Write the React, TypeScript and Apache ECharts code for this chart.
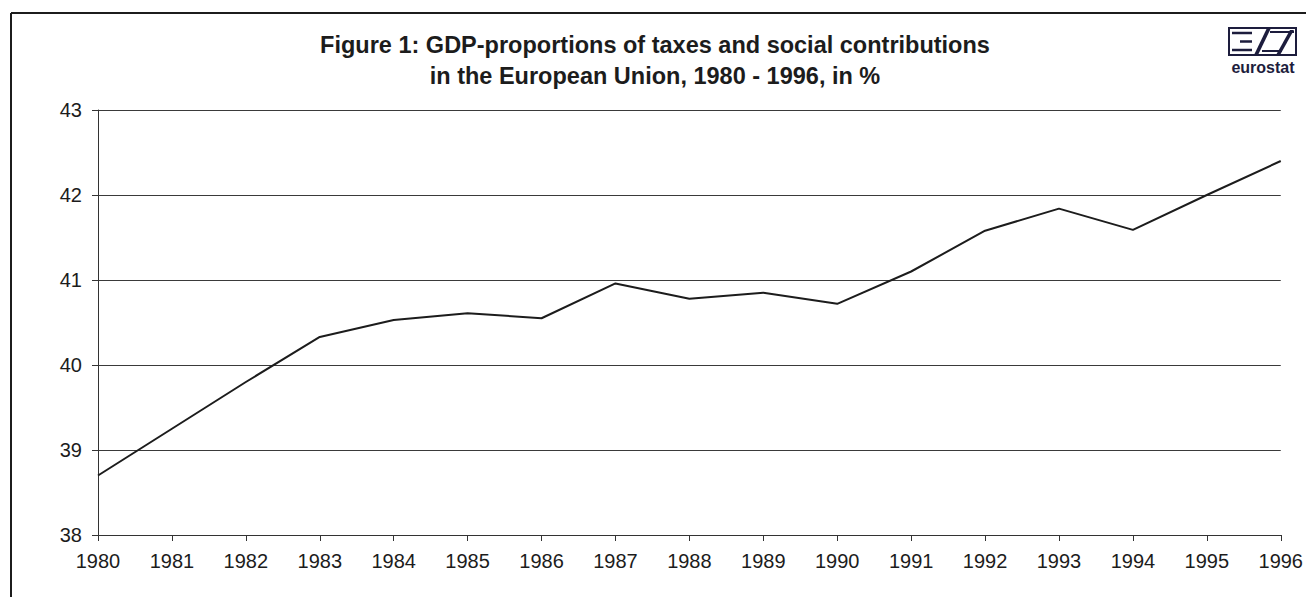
import React, { useEffect, useRef } from "react";
import * as echarts from "echarts";

const years = ["1980","1981","1982","1983","1984","1985","1986","1987","1988","1989","1990","1991","1992","1993","1994","1995","1996"];
const gdpShare = [38.7, 39.25, 39.8, 40.33, 40.53, 40.61, 40.55, 40.96, 40.78, 40.85, 40.72, 41.1, 41.58, 41.84, 41.59, 42.0, 42.4];
const titleLines = ["Figure 1: GDP-proportions of taxes and social contributions", "in the European Union, 1980 - 1996, in %"];
const yMin = 38;
const yMax = 43;

export default function App() {
  const ref = useRef<HTMLDivElement>(null);
  useEffect(() => {
    if (!ref.current) return;
    const chart = echarts.init(ref.current, null, { renderer: "svg" });
    const ink = "#1c1c1c";
    const logo = "#1d1d3d";
    chart.setOption({
      animation: false,
      backgroundColor: "#ffffff",
      textStyle: { fontFamily: "Liberation Sans, Arial, sans-serif" },
      title: {
        text: titleLines.join("\n"),
        left: 650,
        textAlign: "center",
        top: 24,
        textStyle: { fontSize: 23.5, fontWeight: "bold", color: ink, lineHeight: 31, fontFamily: "Liberation Sans, Arial, sans-serif" },
      },
      grid: { left: 98, right: 25, top: 110, bottom: 62 },
      xAxis: {
        type: "category",
        data: years,
        boundaryGap: false,
        axisLine: { lineStyle: { color: "#333", width: 1 } },
        axisTick: { show: true, length: 6, lineStyle: { color: "#333" } },
        axisLabel: { fontSize: 20, color: ink, margin: 16, interval: 0 },
        splitLine: { show: false },
      },
      yAxis: {
        type: "value",
        min: yMin,
        max: yMax,
        interval: 1,
        axisLine: { show: true, lineStyle: { color: "#333", width: 1 } },
        axisTick: { show: true, length: 6, lineStyle: { color: "#333" } },
        axisLabel: { fontSize: 20, color: ink, margin: 16 },
        splitLine: { show: true, lineStyle: { color: "#3a3a3a", width: 1 } },
      },
      series: [
        {
          type: "line",
          data: gdpShare,
          symbol: "none",
          lineStyle: { color: ink, width: 2 },
        },
      ],
      graphic: [
        { type: "line", shape: { x1: 11, y1: 13, x2: 11, y2: 597 }, style: { stroke: ink, lineWidth: 2 } },
        { type: "line", shape: { x1: 11, y1: 13, x2: 1306, y2: 13 }, style: { stroke: ink, lineWidth: 2 } },
        { type: "rect", shape: { x: 1229, y: 28, width: 67, height: 27 }, style: { fill: "none", stroke: logo, lineWidth: 2 } },
        { type: "line", shape: { x1: 1232, y1: 33, x2: 1252, y2: 33 }, style: { stroke: logo, lineWidth: 2.5 } },
        { type: "line", shape: { x1: 1240, y1: 41.5, x2: 1252, y2: 41.5 }, style: { stroke: logo, lineWidth: 2.5 } },
        { type: "line", shape: { x1: 1232, y1: 50, x2: 1252, y2: 50 }, style: { stroke: logo, lineWidth: 2.5 } },
        { type: "polygon", shape: { points: [[1254, 55], [1258, 55], [1271, 28], [1267, 28]] }, style: { fill: logo } },
        { type: "line", shape: { x1: 1270, y1: 32, x2: 1294, y2: 32 }, style: { stroke: logo, lineWidth: 2 } },
        { type: "line", shape: { x1: 1262, y1: 51, x2: 1282, y2: 51 }, style: { stroke: logo, lineWidth: 2 } },
        { type: "polygon", shape: { points: [[1276, 55], [1280, 55], [1294, 30], [1290, 30]] }, style: { fill: logo } },
        {
          type: "text",
          x: 1263,
          y: 67,
          style: { text: "eurostat", fontSize: 16, fontWeight: "bold", fill: logo, align: "center", verticalAlign: "middle", fontFamily: "Liberation Sans, Arial, sans-serif" },
        },
      ],
    });
    return () => chart.dispose();
  }, []);
  return <div ref={ref} style={{ position: "fixed", left: 0, top: 0, width: 1306, height: 597 }} />;
}
